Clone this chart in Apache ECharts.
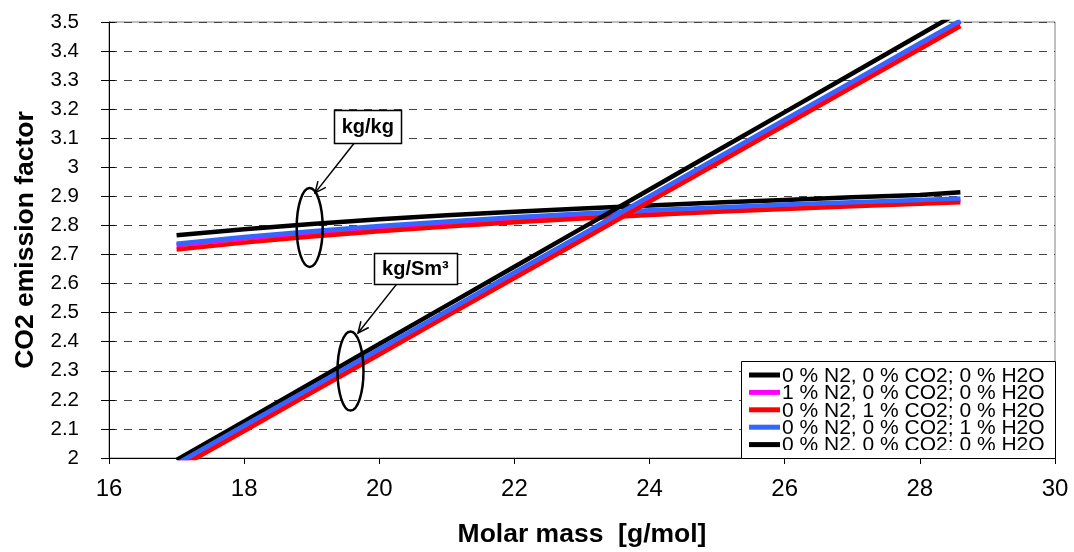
<!DOCTYPE html>
<html><head><meta charset="utf-8">
<script src="https://cdn.jsdelivr.net/npm/echarts@6/dist/echarts.min.js"></script>
<style>html,body{margin:0;padding:0;background:#fff}#c{width:1074px;height:552px}</style>
</head><body><div id="c"></div><script>
// ---- data ----
const molarMass = [17, 18, 19, 20, 21, 22, 23, 24, 25, 26, 27, 28, 28.6];
// CO2 emission factor, kg CO2 / kg fuel
const kgkgPure = [2.766, 2.787, 2.805, 2.821, 2.835, 2.847, 2.858, 2.869, 2.879, 2.888, 2.897, 2.905, 2.914];
const kgkgN2   = [2.732, 2.755, 2.775, 2.793, 2.809, 2.823, 2.836, 2.847, 2.857, 2.867, 2.875, 2.883, 2.888];
const kgkgCO2  = [2.717, 2.741, 2.762, 2.780, 2.796, 2.811, 2.824, 2.836, 2.847, 2.857, 2.866, 2.875, 2.880];
const kgkgH2O  = [2.737, 2.760, 2.780, 2.798, 2.814, 2.828, 2.841, 2.852, 2.862, 2.872, 2.880, 2.888, 2.893];
// CO2 emission factor, kg CO2 / Sm3 fuel
const sm3Pure = [1.993, 2.126, 2.259, 2.392, 2.525, 2.658, 2.791, 2.924, 3.057, 3.190, 3.323, 3.456, 3.536];
const sm3N2   = [1.976, 2.108, 2.239, 2.371, 2.502, 2.634, 2.765, 2.897, 3.028, 3.160, 3.291, 3.423, 3.501];
const sm3CO2  = [1.962, 2.093, 2.225, 2.356, 2.488, 2.619, 2.750, 2.882, 3.013, 3.145, 3.276, 3.407, 3.486];
const sm3H2O  = [1.980, 2.112, 2.243, 2.375, 2.506, 2.638, 2.769, 2.901, 3.032, 3.164, 3.295, 3.427, 3.505];
const seriesNames = ['0 % N2, 0 % CO2; 0 % H2O', '1 % N2, 0 % CO2; 0 % H2O', '0 % N2, 1 % CO2; 0 % H2O', '0 % N2, 0 % CO2; 1 % H2O'];
const xTicks = { min: 16, max: 30, interval: 2 };
const yTicks = { min: 2, max: 3.5, interval: 0.1 };
const xTitle = 'Molar mass  [g/mol]';
const yTitle = 'CO2 emission factor';
const annotKgKg = { text: 'kg/kg', box: [19.83, 3.14], from: [19.63, 3.084], to: [19.05, 2.912], ring: [18.97, 2.793] };
const annotSm3 = { text: 'kg/Sm³', box: [20.535, 2.652], from: [20.26, 2.599], to: [19.685, 2.430], ring: [19.574, 2.299] };

// ---- chart ----
const FONT = '"Liberation Sans", Arial, Helvetica, sans-serif';
const colors = ['#000000', '#FF00FF', '#FF0000', '#3366FF'];
const groups = [[kgkgPure, kgkgN2, kgkgCO2, kgkgH2O], [sm3Pure, sm3N2, sm3CO2, sm3H2O]];
const series = [];
groups.forEach(g => g.forEach((vals, i) => {
  series.push({
    type: 'line', name: seriesNames[i], yAxisIndex: 0,
    data: molarMass.map((m, k) => [m, vals[k]]),
    showSymbol: false, symbol: 'none', clip: true, silent: true,
    lineStyle: { color: colors[i], width: 4.5 }, itemStyle: { color: colors[i] }
  });
}));

const chart = echarts.init(document.getElementById('c'), null, { renderer: 'canvas' });
chart.setOption({
  animation: false,
  backgroundColor: '#ffffff',
  grid: { left: 109, right: 19, top: 22, bottom: 94, show: true, borderColor: '#808080', borderWidth: 1,
          backgroundColor: '#ffffff', containLabel: false, outerBoundsMode: 'none' },
  xAxis: {
    type: 'value', min: xTicks.min, max: xTicks.max, interval: xTicks.interval,
    axisLine: { show: true, onZero: false, lineStyle: { color: '#000', width: 1 } },
    axisTick: { show: true, inside: false, length: 6, lineStyle: { color: '#000' } },
    axisLabel: { fontSize: 24, color: '#000', margin: 19, fontFamily: FONT },
    splitLine: { show: false },
    name: xTitle, nameLocation: 'middle', nameGap: 63,
    nameTextStyle: { fontSize: 26.5, fontWeight: 'bold', color: '#000', fontFamily: FONT }
  },
  yAxis: [{
    type: 'value', position: 'left', min: yTicks.min, max: yTicks.max, interval: yTicks.interval,
    axisLine: { show: true, onZero: false, lineStyle: { color: '#000', width: 1 } },
    axisTick: { show: true, inside: false, length: 8, lineStyle: { color: '#000' } },
    axisLabel: { fontSize: 20.5, color: '#000', margin: 30, fontFamily: FONT },
    splitLine: { show: true, lineStyle: { color: '#444', width: 1, type: [8, 7] } },
    name: yTitle, nameLocation: 'middle', nameGap: 70, nameRotate: 90,
    nameTextStyle: { fontSize: 26.5, fontWeight: 'bold', color: '#000', fontFamily: FONT }
  }, {
    type: 'value', position: 'left', offset: 0, min: yTicks.min, max: yTicks.max, interval: yTicks.interval,
    axisLine: { show: false }, axisLabel: { show: false }, splitLine: { show: false },
    axisTick: { show: true, inside: true, length: 6, lineStyle: { color: '#000' } }
  }],
  series: series
});

function px(p) { return chart.convertToPixel({ gridIndex: 0 }, p); }
function annotation(a, boxW, boxH) {
  const els = [];
  const c = px(a.box), s = px(a.from), t = px(a.to), r = px(a.ring);
  els.push({ type: 'ellipse', z: 50, shape: { cx: r[0], cy: r[1], rx: 13, ry: 39.5 },
             style: { fill: 'none', stroke: '#000', lineWidth: 2.5 } });
  els.push({ type: 'line', z: 50, shape: { x1: s[0], y1: s[1], x2: t[0], y2: t[1] },
             style: { stroke: '#000', lineWidth: 1.5 } });
  const dx = t[0] - s[0], dy = t[1] - s[1], L = Math.hypot(dx, dy), ux = dx / L, uy = dy / L;
  const hl = 11, hw = 5;
  els.push({ type: 'polyline', z: 50, shape: { points: [
      [t[0] - ux * hl - uy * hw, t[1] - uy * hl + ux * hw], [t[0], t[1]], [t[0] - ux * hl + uy * hw, t[1] - uy * hl - ux * hw]] },
    style: { fill: 'none', stroke: '#000', lineWidth: 1.5 } });
  els.push({ type: 'rect', z: 51, shape: { x: Math.round(c[0] - boxW / 2) + 0.5, y: Math.round(c[1] - boxH / 2) + 0.5, width: boxW, height: boxH },
             style: { fill: '#fff', stroke: '#000', lineWidth: 1.5 } });
  els.push({ type: 'text', z: 52, x: c[0], y: c[1] + 1,
             style: { text: a.text, fill: '#000', font: 'bold 20px ' + FONT, align: 'center', verticalAlign: 'middle' } });
  return els;
}

const g = [];
g.push(...annotation(annotKgKg, 67, 33));
g.push(...annotation(annotSm3, 83, 31));
// legend box (Excel-style, last entry clipped by the plot edge)
const lgX = 741, lgY = 361, lgW = 314, lgH = 97, rowH = 17.4, row0 = 375;
g.push({ type: 'rect', z: 60, shape: { x: lgX + 0.5, y: lgY + 0.5, width: lgW, height: lgH },
         style: { fill: '#fff', stroke: '#000', lineWidth: 1 } });
const legendIdx = [0, 1, 2, 3, 4];
legendIdx.forEach((si, k) => {
  const y = row0 + k * rowH;
  const col = series[si].lineStyle.color;
  g.push({ type: 'line', z: 61, shape: { x1: 749, y1: y, x2: 780, y2: y }, style: { stroke: col, lineWidth: 5 } });
  g.push({ type: 'text', z: 61, x: 782, y: y + 1,
           style: { text: series[si].name, fill: '#000', font: '21px ' + FONT, align: 'left', verticalAlign: 'middle' } });
});
g.push({ type: 'rect', z: 62, shape: { x: lgX + 1, y: 450, width: lgW - 1, height: 8 }, style: { fill: '#fff' } });
chart.setOption({ graphic: g });
</script></body></html>
